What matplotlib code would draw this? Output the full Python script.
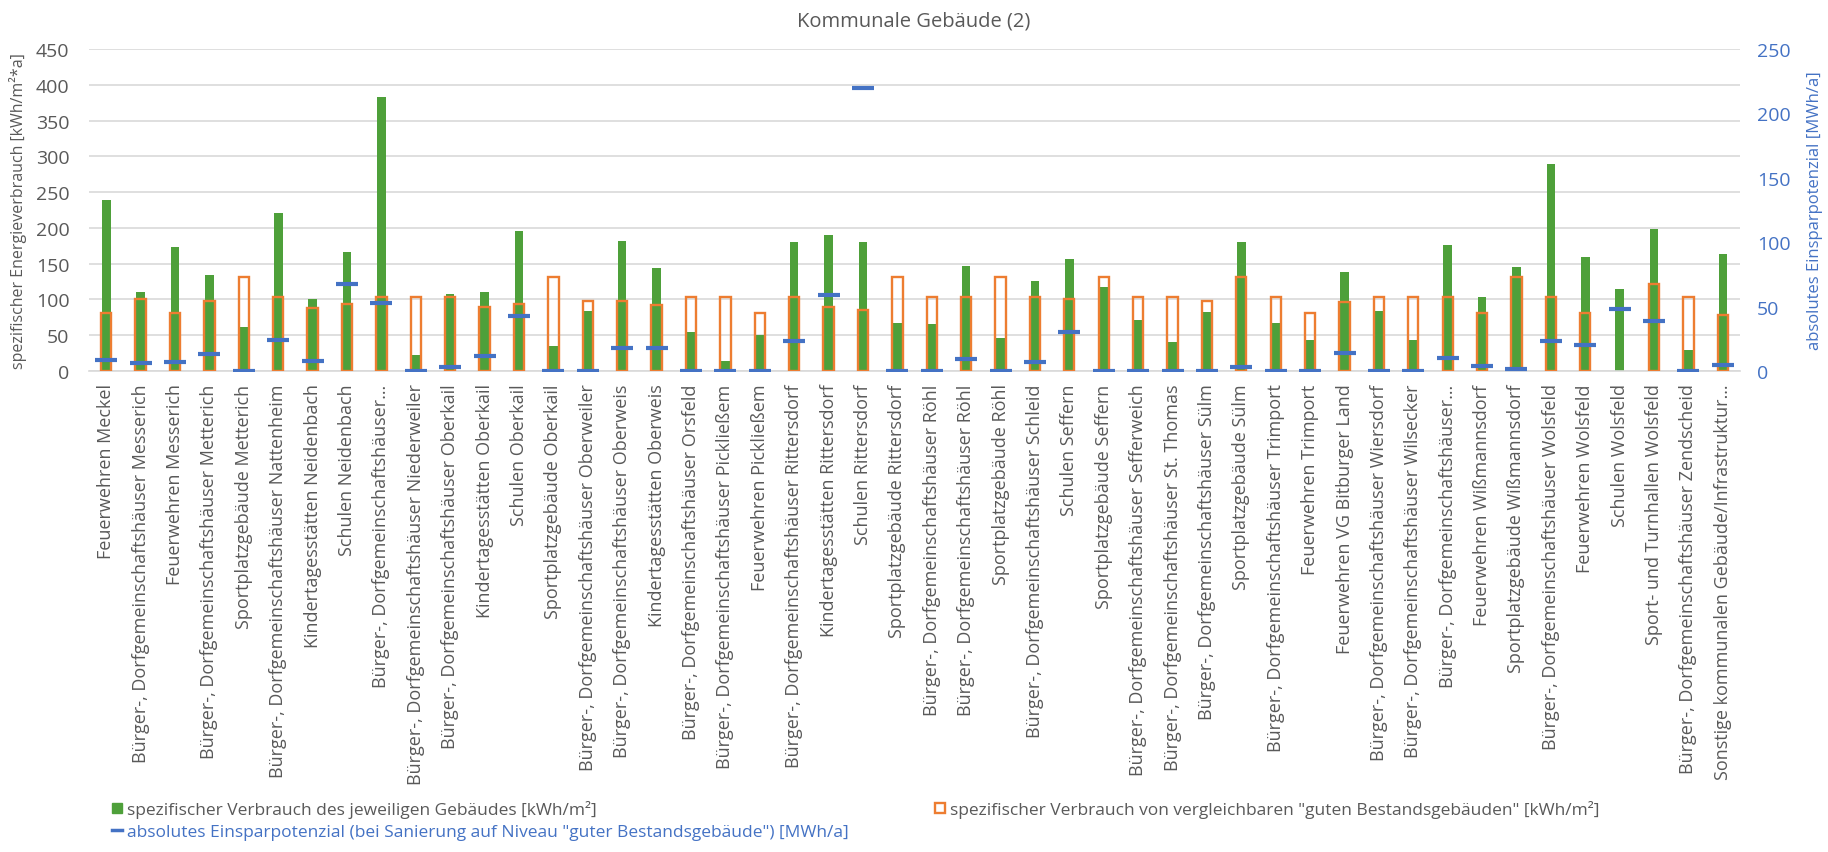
import numpy as np
import matplotlib
matplotlib.use("Agg")
import matplotlib.pyplot as plt
from matplotlib.patches import Patch
from matplotlib.lines import Line2D

plt.rcParams.update({"font.family": ["Open Sans", "DejaVu Sans"]})

GREEN = "#4EA03A"
ORANGE = "#ED7D31"
BLUE = "#4472C4"
GREY = "#595959"
GRID = "#D9D9D9"

DGH = "Bürger-, Dorfgemeinschaftshäuser"

labels = [
    "Feuerwehren Meckel", f"{DGH} Messerich", "Feuerwehren Messerich",
    f"{DGH} Metterich", "Sportplatzgebäude Metterich", f"{DGH} Nattenheim",
    "Kindertagesstätten Neidenbach", "Schulen Neidenbach", f"{DGH}…",
    f"{DGH} Niederweiler", f"{DGH} Oberkail", "Kindertagesstätten Oberkail",
    "Schulen Oberkail", "Sportplatzgebäude Oberkail", f"{DGH} Oberweiler",
    f"{DGH} Oberweis", "Kindertagesstätten Oberweis", f"{DGH} Orsfeld",
    f"{DGH} Pickließem", "Feuerwehren Pickließem", f"{DGH} Rittersdorf",
    "Kindertagesstätten Rittersdorf", "Schulen Rittersdorf", "Sportplatzgebäude Rittersdorf",
    f"{DGH} Röhl", f"{DGH} Röhl", "Sportplatzgebäude Röhl",
    f"{DGH} Schleid", "Schulen Seffern", "Sportplatzgebäude Seffern",
    f"{DGH} Sefferweich", f"{DGH} St. Thomas", f"{DGH} Sülm",
    "Sportplatzgebäude Sülm", f"{DGH} Trimport", "Feuerwehren Trimport",
    "Feuerwehren VG Bitburger Land", f"{DGH} Wiersdorf", f"{DGH} Wilsecker",
    f"{DGH}…", "Feuerwehren Wißmannsdorf", "Sportplatzgebäude Wißmannsdorf",
    f"{DGH} Wolsfeld", "Feuerwehren Wolsfeld", "Schulen Wolsfeld",
    "Sport- und Turnhallen Wolsfeld", f"{DGH} Zendscheid",
    "Sonstige kommunalen Gebäude/Infrastruktur…",
]

# spezifischer Verbrauch des Gebäudes [kWh/m²]
verbrauch = [239, 111, 173, 134, 61, 221, 100, 166, 383, 22, 108, 110,
             195, 35, 84, 182, 144, 54, 14, 50, 180, 190, 180, 67,
             66, 147, 46, 126, 156, 118, 71, 40, 83, 180, 67, 44,
             138, 84, 44, 176, 104, 145, 289, 160, 114, 198, 29, 163]

# Vergleichswert "guter Bestandsgebäude" [kWh/m²]
vergleich = [81, 100, 81, 98, 132, 103, 88, 94, 103, 103, 103, 89,
             94, 132, 98, 98, 92, 104, 104, 81, 103, 90, 85, 132,
             103, 103, 132, 103, 101, 132, 103, 103, 98, 132, 103, 81,
             97, 103, 103, 103, 81, 132, 103, 81, np.nan, 122, 103, 78]

# absolutes Einsparpotenzial [MWh/a]
einsparung = [8.8, 6.2, 6.7, 13.4, 0, 24, 7.5, 67.6, 52.6, 0, 2.8, 11.7,
              42.7, 0, 0, 17.9, 17.9, 0, 0, 0, 23, 59.3, 219.4, 0,
              0, 9, 0, 7, 30.3, 0, 0, 0, 0, 2.8, 0, 0,
              14.2, 0, 0, 10.1, 3.9, 1.3, 23.6, 20, 48.4, 39, 0, 4.4]

x = np.arange(len(labels))

fig = plt.figure(figsize=(18.28, 8.53), dpi=100)
ax = fig.add_axes([0.0487, 0.5639, 0.9032, 0.3775])
ax2 = ax.twinx()

ax.bar(x, verbrauch, width=0.25, color=GREEN, zorder=2)
ax.bar(x, vergleich, width=0.30, facecolor="none", edgecolor=ORANGE,
       linewidth=1.7, zorder=3)
ax2.plot(x, einsparung, linestyle="none", marker="_", markersize=15.5,
         markeredgewidth=3.0, color=BLUE, zorder=4)

ax.set_xlim(-0.5, len(labels) - 0.5)
ax.set_ylim(0, 450)
ax.set_yticks(np.arange(0, 451, 50))
ax2.set_ylim(0, 250)
ax2.set_yticks(np.arange(0, 251, 50))

ax.yaxis.grid(True, color=GRID, linewidth=1.2, zorder=0)
ax.set_axisbelow(True)
for a in (ax, ax2):
    for s in a.spines.values():
        s.set_visible(False)
ax.spines["bottom"].set_visible(True)
ax.spines["bottom"].set_color(GRID)
ax.spines["bottom"].set_linewidth(1.2)

ax.set_xticks(x)
ax.set_xticklabels(labels, rotation=90, fontsize=13, color=GREY)
ax.tick_params(axis="x", length=0, pad=9)
ax.tick_params(axis="y", length=0, pad=14, labelsize=14, labelcolor=GREY)
ax2.tick_params(axis="y", length=0, pad=12, labelsize=14, labelcolor=BLUE)

ax.set_ylabel("spezifischer Energieverbrauch [kWh/m²*a]", fontsize=11.5, color=GREY, labelpad=6)
ax2.set_ylabel("absolutes Einsparpotenzial [MWh/a]", fontsize=12, color=BLUE, labelpad=12)

fig.text(0.5, 1 - 21 / 853, "Kommunale Gebäude (2)", ha="center", va="center",
         fontsize=14.5, color=GREY)

h_green = Patch(facecolor=GREEN, edgecolor=GREEN)
h_orange = Patch(facecolor="white", edgecolor=ORANGE, linewidth=1.7)
h_blue = Line2D([], [], color=BLUE, linewidth=2.5)

leg_kw = dict(frameon=False, prop={"family": "Open Sans", "size": 12.5},
              handlelength=0.55, handleheight=0.55, handletextpad=0.3,
              labelspacing=0.35, borderaxespad=0, borderpad=0)
leg1 = fig.legend([h_green, h_blue],
                  ["spezifischer Verbrauch des jeweiligen Gebäudes [kWh/m²]",
                   "absolutes Einsparpotenzial (bei Sanierung auf Niveau \"guter Bestandsgebäude\") [MWh/a]"],
                  loc="upper left", bbox_to_anchor=(112 / 1828, 1 - 801 / 853), **leg_kw)
leg1.get_texts()[0].set_color(GREY)
leg1.get_texts()[1].set_color(BLUE)
leg2 = fig.legend([h_orange],
                  ["spezifischer Verbrauch von vergleichbaren \"guten Bestandsgebäuden\" [kWh/m²]"],
                  loc="upper left", bbox_to_anchor=(935 / 1828, 1 - 801 / 853), **leg_kw)
leg2.get_texts()[0].set_color(GREY)

fig.savefig("out.png", dpi=100)
